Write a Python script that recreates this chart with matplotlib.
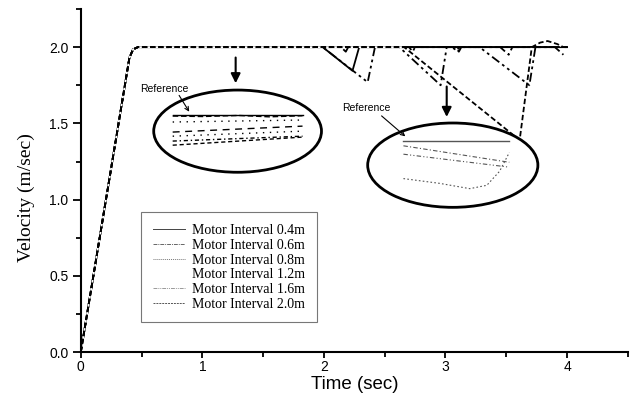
import matplotlib
matplotlib.use("Agg")
import matplotlib.pyplot as plt
from matplotlib.patches import Ellipse
from matplotlib.lines import Line2D
from matplotlib.ticker import MultipleLocator

# velocity curves, (time, velocity) keypoints
t04 = [0, 0.40, 0.43, 0.47, 4.0]
v04 = [0, 1.93, 1.985, 2.0, 2.0]

t06 = [0, 0.40, 0.43, 0.47, 2.14, 2.18, 2.20, 2.70, 2.73, 2.75, 3.08, 3.11, 3.13, 3.45, 3.52, 3.55, 3.90, 3.97]
v06 = [0, 1.93, 1.985, 2.0, 2.0, 1.97, 2.0, 2.0, 1.97, 2.0, 2.0, 1.97, 2.0, 2.0, 1.95, 2.0, 2.0, 1.95]

t08 = [0, 0.40, 0.43, 0.47, 3.05, 3.09, 3.12, 4.0]
v08 = [0, 1.93, 1.985, 2.0, 2.0, 1.98, 2.0, 2.0]

t12 = [0, 0.40, 0.43, 0.47, 1.99, 2.235, 2.29, 4.0]
v12 = [0, 1.93, 1.985, 2.0, 2.0, 1.845, 2.0, 2.0]

t16 = [0, 0.40, 0.43, 0.47, 1.99, 2.36, 2.42, 2.62, 2.96, 3.01, 3.28, 3.69, 3.74, 4.0]
v16 = [0, 1.93, 1.985, 2.0, 2.0, 1.77, 2.0, 2.0, 1.75, 2.0, 2.0, 1.75, 2.0, 2.0]

t20 = [0, 0.40, 0.43, 0.47, 2.66, 3.61, 3.71, 3.78, 3.84, 3.92, 3.97]
v20 = [0, 1.93, 1.985, 2.0, 2.0, 1.39, 2.0, 2.03, 2.04, 2.02, 2.0]

labels = ['Motor Interval 0.4m', 'Motor Interval 0.6m', 'Motor Interval 0.8m',
          'Motor Interval 1.2m', 'Motor Interval 1.6m', 'Motor Interval 2.0m']

# zoomed views inside the ellipses
z1_t = [0.756, 1.824]
z1_a = [1.555, 1.555]
z1_b_t = [0.756, 1.0, 1.3, 1.55, 1.824]
z1_b = [1.548, 1.545, 1.552, 1.543, 1.550]
z1_c = [1.509, 1.522]
z1_d = [1.443, 1.482]
z1_e = [1.416, 1.449]
z1_f = [1.384, 1.416]
z1_g = [1.357, 1.410]

z2_t = [2.654, 3.525]
z2_a = [1.386, 1.386]
z2_b = [1.353, 1.245]
z2_c = [1.298, 1.213]
z2_d_t = [2.654, 2.95, 3.20, 3.34, 3.445, 3.525]
z2_d = [1.138, 1.107, 1.072, 1.094, 1.186, 1.309]

fig = plt.figure(figsize=(6.31, 4.09), dpi=100)
ax = fig.add_axes([0.128, 0.139, 0.867, 0.839])

lw = 1.3
ax.plot(t04, v04, color='black', lw=lw, ls='-')
ax.plot(t06, v06, color='black', lw=lw, ls=(0, (6, 2, 1.5, 2)))
ax.plot(t08, v08, color='black', lw=lw, ls=(0, (1.5, 1.5)))
ax.plot(t12, v12, color='black', lw=lw, ls='-')
ax.plot(t16, v16, color='black', lw=lw, ls=(0, (5, 2, 1.5, 2, 1.5, 2)))
ax.plot(t20, v20, color='black', lw=lw, ls=(0, (3, 1.5)), gapcolor='white')

# ellipses covering the curves
e1 = Ellipse((1.29, 1.449), 1.38, 0.539, facecolor='white', edgecolor='black', lw=2, zorder=5)
e2 = Ellipse((3.06, 1.226), 1.40, 0.553, facecolor='white', edgecolor='black', lw=2, zorder=5)
ax.add_patch(e1)
ax.add_patch(e2)

ax.annotate('', xy=(1.274, 1.745), xytext=(1.274, 1.95),
            arrowprops=dict(arrowstyle='-|>', color='black', lw=1.5, mutation_scale=14), zorder=6)
ax.annotate('', xy=(3.01, 1.524), xytext=(3.01, 1.76),
            arrowprops=dict(arrowstyle='-|>', color='black', lw=1.5, mutation_scale=14), zorder=6)

# inset 1
ax.plot(z1_t, z1_a, color='black', lw=1.0, zorder=6)
ax.plot(z1_b_t, z1_b, color='black', lw=1.0, ls=(0, (4, 2)), zorder=6)
ax.plot(z1_t, z1_c, color='black', lw=1.0, ls=(0, (1, 4)), zorder=6)
ax.plot(z1_t, z1_d, color='black', lw=1.0, ls=(0, (5, 4)), zorder=6)
ax.plot(z1_t, z1_e, color='black', lw=1.0, ls=(0, (1, 4)), zorder=6)
ax.plot(z1_t, z1_f, color='black', lw=1.0, ls=(0, (3, 2, 1, 2)), zorder=6)
ax.plot(z1_t, z1_g, color='black', lw=1.0, ls=(0, (3, 2)), zorder=6)
ax.text(0.485, 1.726, 'Reference', fontsize=7.5, family='Liberation Sans', va='center', zorder=7)
ax.annotate('', xy=(0.904, 1.561), xytext=(0.797, 1.699),
            arrowprops=dict(arrowstyle='->', color='black', lw=0.8, mutation_scale=7), zorder=7)

# inset 2
ax.plot(z2_t, z2_a, color='#555555', lw=1.0, zorder=6)
ax.plot(z2_t, z2_b, color='#555555', lw=0.8, ls=(0, (4, 2, 1, 2)), zorder=6)
ax.plot(z2_t, z2_c, color='#555555', lw=0.8, ls=(0, (4, 2, 1, 2, 1, 2)), zorder=6)
ax.plot(z2_d_t, z2_d, color='#555555', lw=0.8, ls=(0, (1.5, 2)), zorder=6)
ax.text(2.153, 1.60, 'Reference', fontsize=7.5, family='Liberation Sans', va='center', zorder=7)
ax.annotate('', xy=(2.687, 1.403), xytext=(2.457, 1.561),
            arrowprops=dict(arrowstyle='->', color='black', lw=0.8, mutation_scale=7), zorder=7)

# legend with thin grey sample lines
handles = [
    Line2D([], [], color='#444444', lw=0.7, ls='-'),
    Line2D([], [], color='#666666', lw=0.7, ls=(0, (4, 1, 1, 1))),
    Line2D([], [], color='#777777', lw=0.7, ls=(0, (1, 1))),
    Line2D([], [], color='white', lw=0.7, ls='-'),
    Line2D([], [], color='#999999', lw=0.7, ls=(0, (4, 1, 1, 1, 1, 1))),
    Line2D([], [], color='#555555', lw=0.7, ls=(0, (2, 1))),
]
leg = ax.legend(handles, labels, loc='upper left', bbox_to_anchor=(0.111, 0.407),
                borderaxespad=0, frameon=True, fancybox=False, framealpha=1,
                prop={'family': 'Liberation Serif', 'size': 10},
                handlelength=2.3, handletextpad=0.5, borderpad=0.85, labelspacing=0.12)
leg.get_frame().set_edgecolor('#777777')
leg.get_frame().set_linewidth(0.8)
leg.set_zorder(8)

ax.set_xlim(0, 4.5)
ax.set_ylim(0, 2.25)
ax.xaxis.set_major_locator(MultipleLocator(1))
ax.xaxis.set_minor_locator(MultipleLocator(0.5))
ax.yaxis.set_major_locator(MultipleLocator(0.5))
ax.yaxis.set_minor_locator(MultipleLocator(0.25))
ax.yaxis.set_major_formatter(plt.FormatStrFormatter('%.1f'))

ax.spines['top'].set_visible(False)
ax.spines['right'].set_visible(False)
ax.spines['left'].set_linewidth(1.5)
ax.spines['bottom'].set_linewidth(1.5)
ax.tick_params(axis='y', which='major', direction='out', length=6, width=1.3, labelsize=10, pad=3)
ax.tick_params(axis='y', which='minor', direction='out', length=3.5, width=1.3)
ax.tick_params(axis='x', which='major', direction='out', length=4, width=1.3, labelsize=10, pad=1.5)
ax.tick_params(axis='x', which='minor', direction='out', length=3.5, width=1.3)
for lab in ax.get_xticklabels() + ax.get_yticklabels():
    lab.set_family('Liberation Sans')

ax.set_xlabel('Time (sec)', family='Liberation Sans', fontsize=13.5, va='center')
ax.set_ylabel('Velocity (m/sec)', family='Liberation Serif', fontsize=14, va='center')
ax.xaxis.set_label_coords(0.5, -0.095)
ax.yaxis.set_label_coords(-0.1, 0.45)

fig.savefig('out.png', dpi=100)
